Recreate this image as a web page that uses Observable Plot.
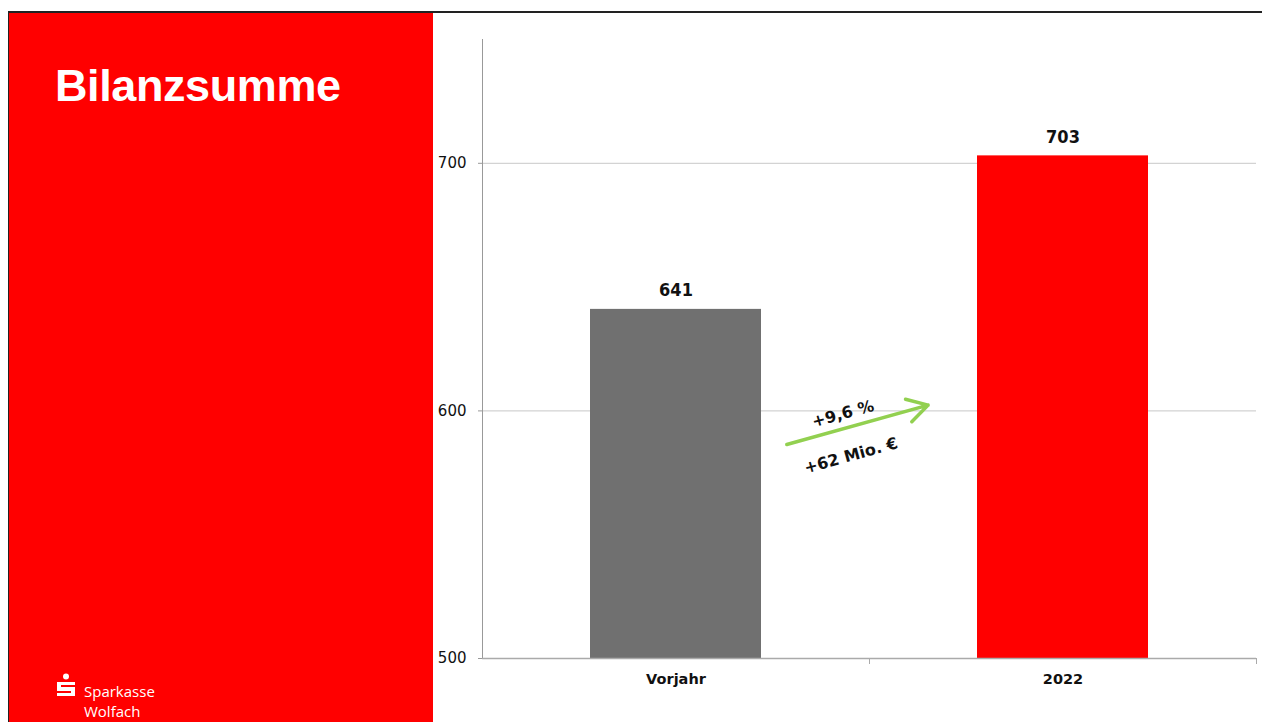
<!DOCTYPE html>
<html>
<head>
<meta charset="utf-8">
<script src="https://cdn.jsdelivr.net/npm/d3@7"></script>
<script src="https://cdn.jsdelivr.net/npm/@observablehq/plot@0.6"></script>
<style>
  html, body { margin: 0; padding: 0; background: #fff; width: 1262px; height: 722px; overflow: hidden; }
  #frameTop { position: absolute; left: 8px; top: 11px; width: 1254px; height: 2px; background: #222; }
  #frameLeft { position: absolute; left: 8px; top: 11px; width: 1px; height: 711px; background: #222; }
  #panel { position: absolute; left: 9px; top: 13px; width: 424px; height: 709px; background: #ff0000; }
  #title { position: absolute; left: 55px; top: 60px; color: #fff; font-family: "Liberation Sans", Arial, sans-serif; font-weight: bold; font-size: 45px; letter-spacing: -0.4px; }
  #logo { position: absolute; left: 55px; top: 672px; color: #fff; font-family: "Open Sans", sans-serif; font-size: 15px; line-height: 20px; }
  #logo svg { position: absolute; left: 0; top: 1px; }
  #logo .name { position: absolute; left: 29px; top: 9px; white-space: nowrap; }
  #chart { position: absolute; left: 433px; top: 13px; }
</style>
</head>
<body>
<div id="panel"></div>
<div id="frameTop"></div>
<div id="frameLeft"></div>
<div id="title">Bilanzsumme</div>
<div id="logo">
  <svg width="22" height="26" viewBox="0 0 22 26">
    <circle cx="11" cy="3.5" r="3" fill="#fff"/>
    <path d="M2 9 H20 V12 H6 V14 H20 V23 H2 V20 H16 V18 H2 Z" fill="#fff"/>
  </svg>
  <div class="name">Sparkasse<br>Wolfach</div>
</div>
<div id="chart"></div>
<script>
// ---- data ----
const categories = ["Vorjahr", "2022"];
const values = [641, 703];
const barColors = ["#707070", "#ff0000"];
const yTicks = [500, 600, 700];
const yDomain = [500, 750];
const growthPct = "+9,6 %";
const growthAbs = "+62 Mio. €";
// arrow annotation (value space): start near Vorjahr, end near 2022
const arrowStart = 574;
const arrowEnd = 617.5;
const pctValue = 598.8;
const absValue = 581.9;

const data = categories.map((c, i) => ({category: c, value: values[i], color: barColors[i]}));

const W = 829, H = 709;
const mL = 49, mR = 6, mT = 26, mB = 64;
const step = (W - mL - mR) / categories.length;

const chart = Plot.plot({
  width: W,
  height: H,
  marginLeft: mL,
  marginRight: mR,
  marginTop: mT,
  marginBottom: mB,
  style: {fontFamily: "DejaVu Sans, sans-serif", background: "transparent", overflow: "visible"},
  x: {domain: categories, paddingInner: 0.558, paddingOuter: 0.279, align: 0.5},
  y: {domain: yDomain},
  marks: [
    Plot.gridY(yTicks, {stroke: "#c8c8c8", strokeOpacity: 1, strokeWidth: 1}),
    Plot.ruleX([categories[0]], {x: d => d, y1: yDomain[0], y2: yDomain[1], dx: -step / 2, stroke: "#999"}),
    Plot.axisY(yTicks, {
      tickSize: 4, tickPadding: 12, fontSize: 15, fill: "#111",
      stroke: "#999", tickFormat: d => String(d), label: null
    }),
    Plot.barY(data, {x: "category", y1: yDomain[0], y2: "value", fill: "color"}),
    Plot.ruleY([yDomain[0]], {stroke: "#aaa", strokeWidth: 1.5}),
    Plot.ruleX(categories, {x: d => d, y1: yDomain[0], y2: yDomain[0], dx: step / 2, stroke: "#aaa", insetBottom: -6}),
    Plot.axisX({tickSize: 0, tickPadding: 15, fontSize: 14.5, fontWeight: "bold", fill: "#111", label: null}),
    Plot.text(data, {x: "category", y: "value", text: d => String(d.value), dy: -19,
      fontSize: 18, fontWeight: "bold", fill: "#111", fontFamily: "DejaVu Sans Condensed, sans-serif"}),
    Plot.arrow([{}], {
      x1: () => categories[0], x2: () => categories[1],
      y1: () => arrowStart, y2: () => arrowEnd,
      stroke: "#92d050", strokeWidth: 3.5, bend: 0, headLength: 10,
      insetStart: 115, insetEnd: 140
    }),
    Plot.text([growthPct], {
      x: () => categories[0], y: () => pctValue, text: d => d,
      dx: 167, rotate: -15.5, fontSize: 16, fontWeight: "bold", fill: "#111"
    }),
    Plot.text([growthAbs], {
      x: () => categories[0], y: () => absValue, text: d => d,
      dx: 175, rotate: -15.5, fontSize: 16, fontWeight: "bold", fill: "#111"
    })
  ]
});
document.getElementById("chart").appendChild(chart);
</script>
</body>
</html>
